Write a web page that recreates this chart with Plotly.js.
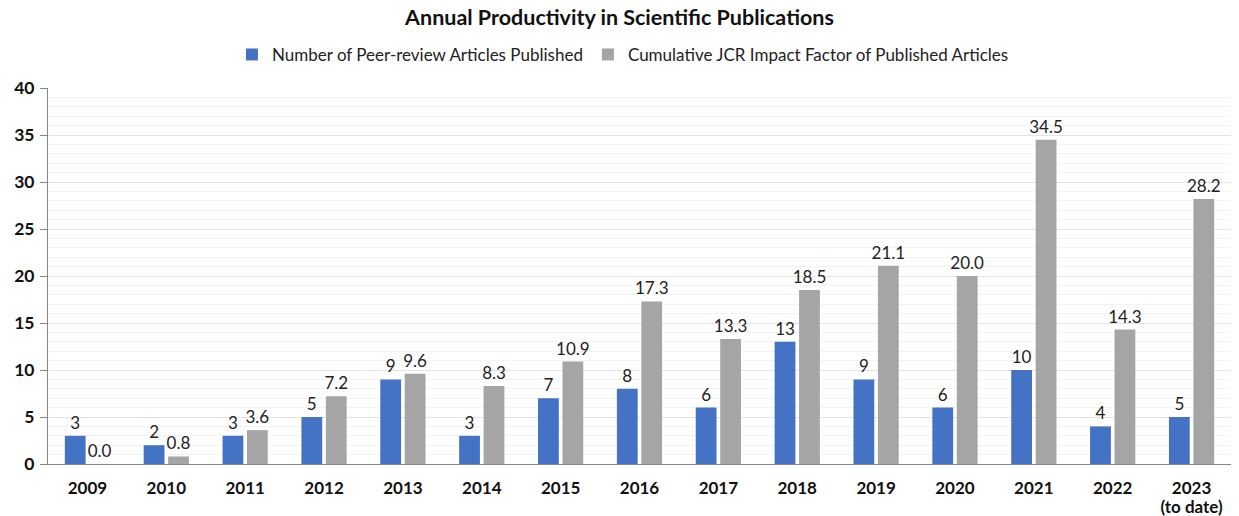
<!DOCTYPE html>
<html><head><meta charset="utf-8">
<script src="https://cdn.plot.ly/plotly-3.0.1.min.js"></script>
<style>html,body{margin:0;padding:0;background:#fff}#c{width:1239px;height:516px}</style>
</head><body><div id="c"></div>
<script>
const years = ["2009","2010","2011","2012","2013","2014","2015","2016","2017","2018","2019","2020","2021","2022","2023"];
const yearLabels = ["2009","2010","2011","2012","2013","2014","2015","2016","2017","2018","2019","2020","2021","2022","2023<br>(to date)"];
const articles = [3,2,3,5,9,3,7,8,6,13,9,6,10,4,5];
const impact = [0.0,0.8,3.6,7.2,9.6,8.3,10.9,17.3,13.3,18.5,21.1,20.0,34.5,14.3,28.2];
const yTicks = [0,5,10,15,20,25,30,35,40];

const font = "Lato, 'Open Sans', sans-serif";
const traces = [
  {type:"bar", name:"Number of Peer-review Articles Published", x:years, y:articles,
   marker:{color:"#4472C4"}, text:articles.map(v=>String(v)), textposition:"outside", constraintext:"none",
   textfont:{family:font,size:17,color:"#222"}, cliponaxis:false, hoverinfo:"none"},
  {type:"bar", name:"Cumulative JCR Impact Factor of Published Articles", x:years, y:impact,
   marker:{color:"#A5A5A5"}, text:impact.map(v=>v.toFixed(1)), textposition:"outside", constraintext:"none",
   textfont:{family:font,size:17,color:"#222"}, cliponaxis:false, hoverinfo:"none"}
];
const layout = {
  width:1239, height:516,
  margin:{l:48, r:8, t:88, b:52},
  paper_bgcolor:"#fff", plot_bgcolor:"#fff",
  font:{family:font, color:"#111"},
  title:{text:"<b>Annual Productivity in Scientific Publications</b>", x:0.5, xanchor:"center", y:0.967, yanchor:"middle",
    font:{family:font,size:21.5,color:"#111"}},
  showlegend:true,
  legend:{orientation:"h", x:0.486, xanchor:"center", y:1.088, yanchor:"middle",
    font:{family:font,size:17,color:"#222"}, itemwidth:30, traceorder:"normal"},
  barmode:"group", bargap:0.38, bargroupgap:0.15,
  xaxis:{type:"category", showline:true, linecolor:"#888", linewidth:1, ticks:"", showgrid:false,
    tickvals:years, ticktext:yearLabels.map(s=>'<span style="font-size:17px"><b>'+s.replace("<br>","</b></span><br><span style=\"font-size:17px\"><b>")+'</b></span>'),
    ticklabelstandoff:12,
    tickfont:{family:font,size:14.5,color:"#111"}},
  yaxis:{range:[0,40], tickvals:yTicks, ticktext:yTicks.map(v=>"<b>"+v+"</b>"), showline:true, linecolor:"#888", linewidth:1,
    ticks:"outside", ticklen:7, tickcolor:"#888", ticklabelstandoff:2,
    gridcolor:"#e4e4e4", gridwidth:1, zeroline:false,
    minor:{dtick:1, showgrid:true, gridcolor:"#f3f3f3", gridwidth:1, ticks:""},
    tickfont:{family:font,size:17.5,color:"#111"}}
};
Plotly.newPlot("c", traces, layout, {displayModeBar:false, staticPlot:true});
</script></body></html>
